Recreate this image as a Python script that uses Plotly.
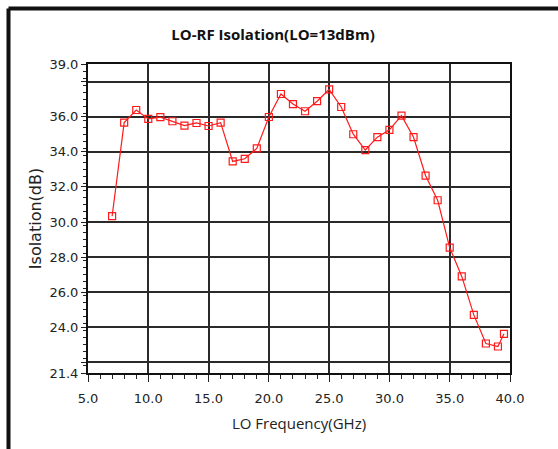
import plotly.graph_objects as go

# Data
freq_ghz = [7, 8, 9, 10, 11, 12, 13, 14, 15, 16, 17, 18, 19, 20, 21, 22, 23, 24, 25,
            26, 27, 28, 29, 30, 31, 32, 33, 34, 35, 36, 37, 38, 39, 39.5]
isolation_db = [30.33, 35.66, 36.38, 35.87, 35.97, 35.74, 35.49, 35.64, 35.47, 35.66,
                33.45, 33.6, 34.19, 35.98, 37.29, 36.72, 36.31, 36.88, 37.55,
                36.55, 35.0, 34.1, 34.83, 35.25, 36.06, 34.83, 32.64, 31.24,
                28.54, 26.9, 24.71, 23.08, 22.91, 23.63]

x_tickvals = [5, 10, 15, 20, 25, 30, 35, 40]
x_ticktext = ["5.0", "10.0", "15.0", "20.0", "25.0", "30.0", "35.0", "40.0"]
y_tickvals = [21.4, 22, 24, 26, 28, 30, 32, 34, 36, 38, 39]
y_ticktext = ["21.4", "", "24.0", "26.0", "28.0", "30.0", "32.0", "34.0", "36.0", "", "39.0"]

W, H = 558, 449
ML, MR, MT, MB = 88, 48, 64, 76

fig = go.Figure()
fig.add_trace(go.Scatter(
    x=freq_ghz, y=isolation_db, mode="lines+markers",
    line=dict(color="#ff1a1a", width=1.2),
    marker=dict(symbol="square-open", size=7, color="#ff1a1a", line=dict(width=1.2)),
    showlegend=False,
))

grid_col = "#2a2a2a"
tick_font = dict(family="DejaVu Sans", size=13, color="#222")

fig.update_xaxes(
    range=[5, 40], tickvals=x_tickvals, ticktext=x_ticktext,
    showgrid=True, gridcolor=grid_col, gridwidth=2,
    showline=True, linecolor="#111", linewidth=2, mirror=True,
    ticks="outside", ticklen=7, tickwidth=1, tickcolor="#222",
    minor=dict(dtick=1, tick0=5, ticks="outside", ticklen=4, tickwidth=1, tickcolor="#222", showgrid=False),
    tickfont=tick_font, zeroline=False, ticklabelstandoff=5,
    title=dict(text="LO Frequency(GHz)", font=dict(family="Open Sans", size=15, color="#222"), standoff=14),
)
fig.update_yaxes(
    range=[21.4, 39.0], tickvals=y_tickvals, ticktext=y_ticktext,
    showgrid=True, gridcolor=grid_col, gridwidth=2,
    showline=True, linecolor="#111", linewidth=2, mirror=True,
    ticks="outside", ticklen=5, tickwidth=1, tickcolor="#222",
    minor=dict(dtick=0.4, tick0=21.4, ticks="outside", ticklen=3, tickwidth=1, tickcolor="#222", showgrid=False),
    tickfont=tick_font, zeroline=False,
    title=dict(text="Isolation(dB)", font=dict(family="DejaVu Sans", size=16, color="#222"), standoff=4),
)

# outer frame (left and top edges of the panel)
fx = (8.5 - ML) / (W - ML - MR)
fy = 1 + (MT - 8.5) / (H - MT - MB)
fig.add_shape(type="line", xref="paper", yref="paper", x0=fx, x1=fx, y0=fy, y1=-1,
              line=dict(color="#111", width=4))
fig.add_shape(type="line", xref="paper", yref="paper", x0=fx, x1=2, y0=fy, y1=fy,
              line=dict(color="#111", width=4))

fig.update_layout(
    width=W, height=H,
    margin=dict(l=ML, r=MR, t=MT, b=MB),
    paper_bgcolor="white", plot_bgcolor="white",
    title=dict(text="<b>LO-RF Isolation(LO=13dBm)</b>", x=(273 / W), xanchor="center",
               y=1 - 35 / H, yanchor="middle",
               font=dict(family="Open Sans", size=15, color="#111")),
)

fig.write_html("out.html")
